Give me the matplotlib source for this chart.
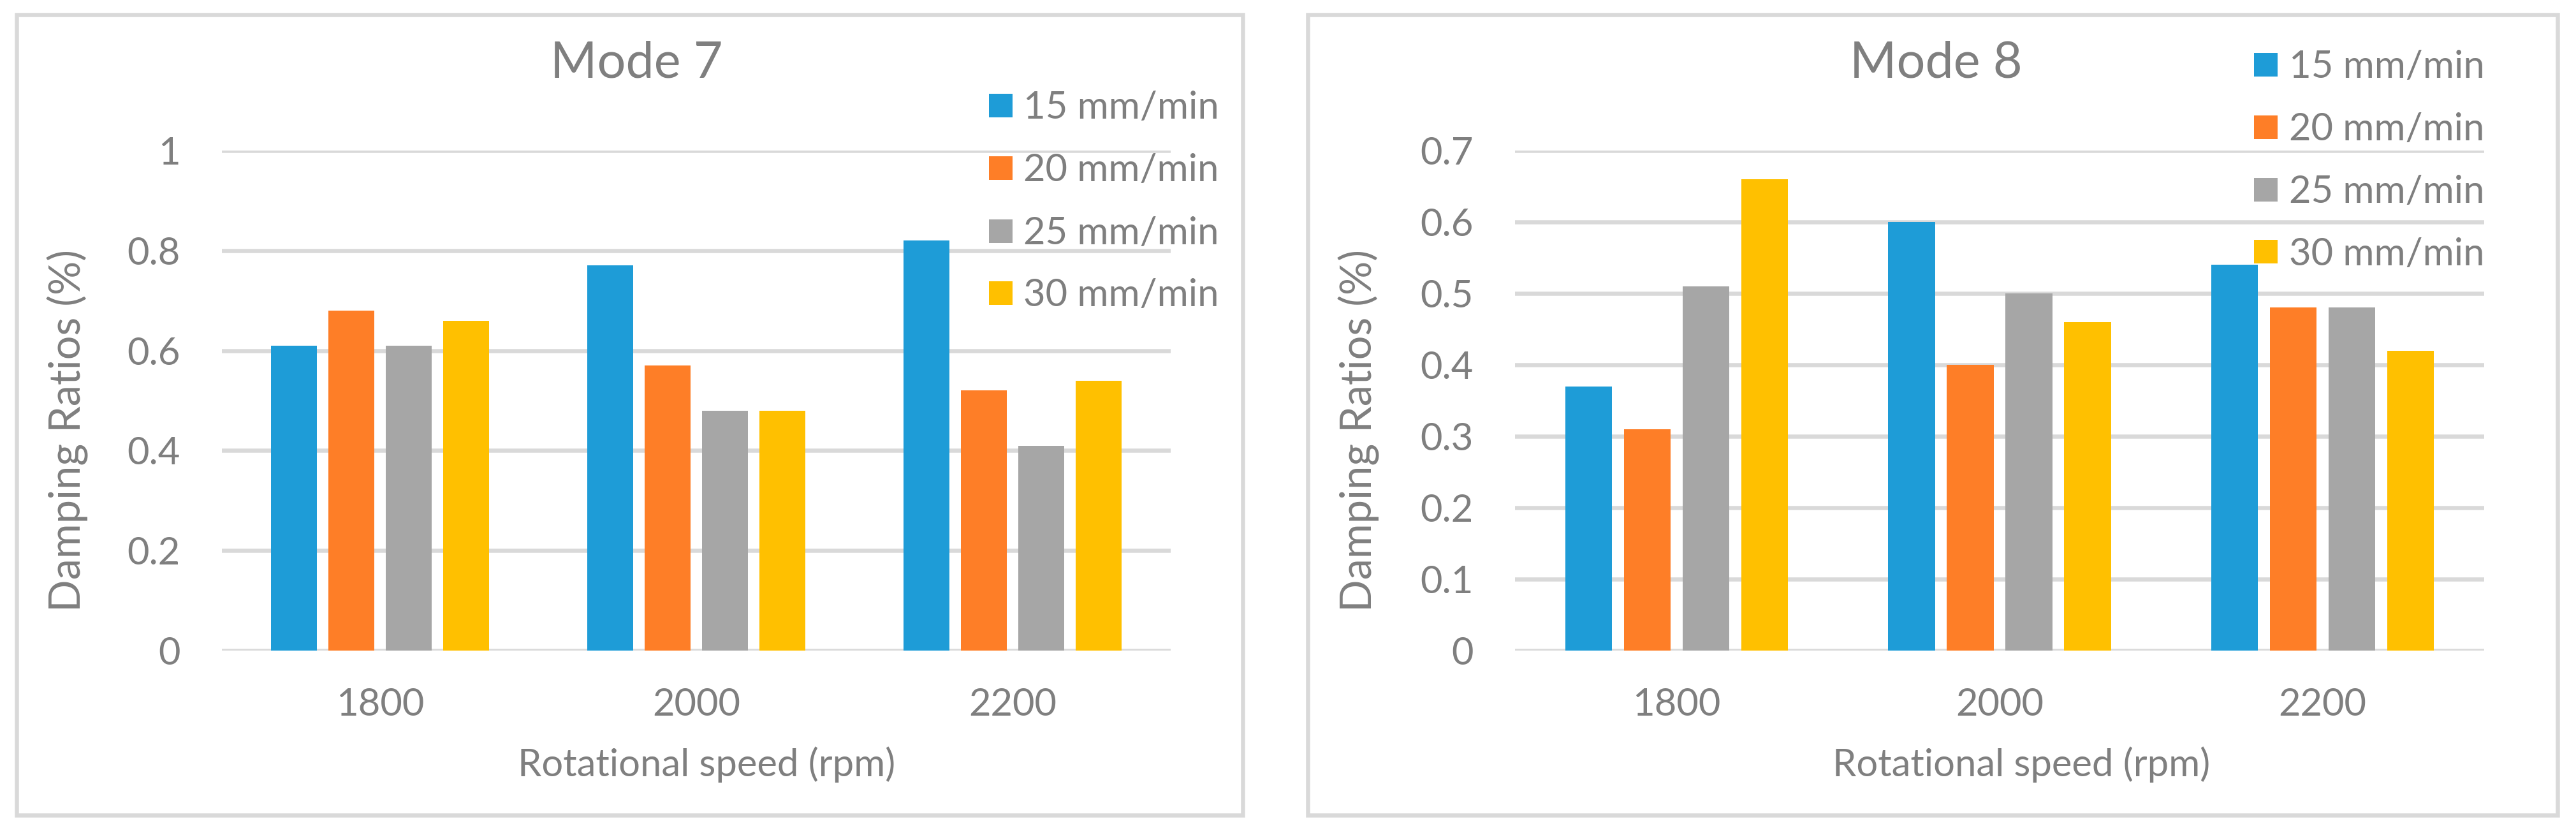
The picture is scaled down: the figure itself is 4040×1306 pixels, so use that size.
import matplotlib
matplotlib.use("Agg")
import matplotlib.pyplot as plt
from matplotlib.patches import Rectangle
import numpy as np

# ---------------- data ----------------
speeds = ["1800", "2000", "2200"]
feeds = ["15 mm/min", "20 mm/min", "25 mm/min", "30 mm/min"]
colors = ["#1E9CD7", "#FE7E27", "#A6A6A6", "#FFC000"]

mode7_15 = [0.61, 0.77, 0.82]
mode7_20 = [0.68, 0.57, 0.52]
mode7_25 = [0.61, 0.48, 0.41]
mode7_30 = [0.66, 0.48, 0.54]

mode8_15 = [0.37, 0.60, 0.54]
mode8_20 = [0.31, 0.40, 0.48]
mode8_25 = [0.51, 0.50, 0.48]
mode8_30 = [0.66, 0.46, 0.42]

mode7_ticks = [0, 0.2, 0.4, 0.6, 0.8, 1.0]
mode7_ticklabels = ["0", "0.2", "0.4", "0.6", "0.8", "1"]
mode8_ticks = [0, 0.1, 0.2, 0.3, 0.4, 0.5, 0.6, 0.7]
mode8_ticklabels = ["0", "0.1", "0.2", "0.3", "0.4", "0.5", "0.6", "0.7"]

# ---------------- style ----------------
W, H = 4041, 1306
DPI = 100
TXT = "#7F7F7F"
GRID = "#D9D9D9"
FONT = ["Lato", "DejaVu Sans"]
plt.rcParams["font.family"] = FONT

fig = plt.figure(figsize=(W / DPI, H / DPI), dpi=DPI)
fig.patch.set_facecolor("white")


def fx(x):
    return x / W


def fy(y):
    return 1 - y / H


def px2pt(p):
    return p * 72.0 / DPI


# panel frames
for (x0, x1) in [(26, 1949), (2051, 4011)]:
    y0, y1 = 23, 1278
    fig.add_artist(Rectangle((fx(x0), fy(y1)), fx(x1) - fx(x0), fy(y0) - fy(y1),
                             transform=fig.transFigure, facecolor="white",
                             edgecolor=GRID, linewidth=px2pt(6.5), zorder=0))

panels = [
    dict(title="Mode 7", series=[mode7_15, mode7_20, mode7_25, mode7_30],
         ticks=mode7_ticks, labels=mode7_ticklabels, ymax=1.0,
         ax_x0=348, ax_x1=1836, title_x=998, xlabel_x=1108, ylabel_x=106,
         leg_patch_x=1551, leg_text_x=1605, leg_rows=[165, 263, 362, 459]),
    dict(title="Mode 8", series=[mode8_15, mode8_20, mode8_25, mode8_30],
         ticks=mode8_ticks, labels=mode8_ticklabels, ymax=0.7,
         ax_x0=2376, ax_x1=3896, title_x=3036, xlabel_x=3170, ylabel_x=2131,
         leg_patch_x=3535, leg_text_x=3590, leg_rows=[101, 199, 297, 395]),
]

AX_TOP, AX_BOT = 236, 1020
step = 0.1815
width = 0.145
x = np.arange(len(speeds))

for p in panels:
    ax = fig.add_axes([fx(p["ax_x0"]), fy(AX_BOT), fx(p["ax_x1"]) - fx(p["ax_x0"]),
                       fy(AX_TOP) - fy(AX_BOT)])
    ax.set_facecolor("none")
    for i, vals in enumerate(p["series"]):
        ax.bar(x + (i - 1.5) * step, vals, width=width, color=colors[i],
               label=feeds[i], zorder=3)
    ax.set_xlim(-0.5, len(speeds) - 0.5)
    ax.set_ylim(0, p["ymax"])
    ax.set_yticks(p["ticks"])
    ax.set_yticklabels(p["labels"])
    ax.set_xticks(x)
    ax.set_xticklabels(speeds)
    ax.tick_params(axis="both", length=0, labelsize=43, labelcolor=TXT)
    ax.tick_params(axis="y", pad=px2pt(65))
    ax.tick_params(axis="x", pad=px2pt(58))
    ax.yaxis.grid(True, color=GRID, linewidth=px2pt(6.5), zorder=0)
    ax.set_axisbelow(True)
    for s in ax.spines.values():
        s.set_visible(False)

    # title
    fig.text(fx(p["title_x"]), fy(121), p["title"], ha="center", va="baseline",
             fontsize=57, color=TXT)
    # axis titles
    fig.text(fx(p["xlabel_x"]), fy(1217), "Rotational speed (rpm)", ha="center",
             va="baseline", fontsize=43, color=TXT)
    fig.text(fx(p["ylabel_x"]), fy(675), "Damping Ratios (%)", ha="center",
             va="center", rotation=90, fontsize=48, color=TXT)

    # legend
    sq = 37
    for i, lab in enumerate(feeds):
        cy = p["leg_rows"][i]
        fig.add_artist(Rectangle((fx(p["leg_patch_x"]), fy(cy + sq / 2)),
                                 sq / W, sq / H, transform=fig.transFigure,
                                 facecolor=colors[i], edgecolor="none"))
        fig.text(fx(p["leg_text_x"]), fy(cy + 21), lab, ha="left", va="baseline",
                 fontsize=43, color=TXT)

fig.savefig("out.png", dpi=DPI, facecolor="white")
